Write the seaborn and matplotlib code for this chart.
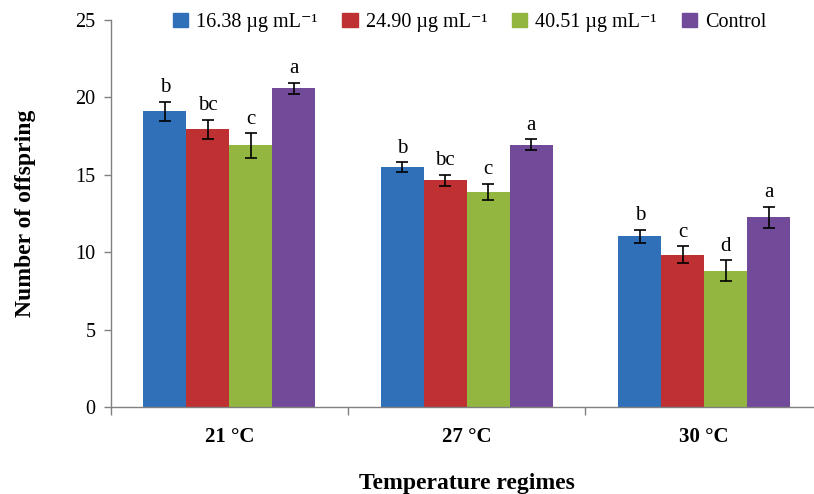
import matplotlib
matplotlib.use("Agg")
import matplotlib.pyplot as plt
import matplotlib.patches as mpatches
import seaborn as sns
import pandas as pd

# values
temps = ["21 °C", "27 °C", "30 °C"]
doses = ["16.38 µg mL⁻¹", "24.90 µg mL⁻¹", "40.51 µg mL⁻¹", "Control"]
means_1638 = [19.1, 15.5, 11.05]
means_2490 = [17.95, 14.65, 9.85]
means_4051 = [16.9, 13.9, 8.8]
means_ctrl = [20.6, 16.95, 12.25]
err_1638 = [0.62, 0.32, 0.42]
err_2490 = [0.62, 0.36, 0.53]
err_4051 = [0.78, 0.52, 0.68]
err_ctrl = [0.35, 0.35, 0.68]
letters_1638 = ["b", "b", "b"]
letters_2490 = ["bc", "bc", "c"]
letters_4051 = ["c", "c", "d"]
letters_ctrl = ["a", "a", "a"]
colors = ["#2F70B8", "#BE3032", "#92B63F", "#714B9A"]

means = [means_1638, means_2490, means_4051, means_ctrl]
errs = [err_1638, err_2490, err_4051, err_ctrl]
letters = [letters_1638, letters_2490, letters_4051, letters_ctrl]

rows = []
for d, dose in enumerate(doses):
    for t, temp in enumerate(temps):
        rows.append({"temp": temp, "dose": dose, "n": means[d][t],
                     "err": errs[d][t], "letter": letters[d][t]})
df = pd.DataFrame(rows)

sns.set_style("white")
plt.rcParams["font.family"] = ["Liberation Serif", "DejaVu Serif"]
plt.rcParams["text.color"] = "black"
plt.rcParams["axes.labelcolor"] = "black"
plt.rcParams["xtick.color"] = "#808080"
plt.rcParams["ytick.color"] = "#808080"
plt.rcParams["xtick.labelcolor"] = "black"
plt.rcParams["ytick.labelcolor"] = "black"

fig = plt.figure(figsize=(8.14, 4.94), dpi=100)
ax = fig.add_axes([0.1359, 0.176, 0.875, 0.7834])

sns.barplot(data=df, x="temp", y="n", hue="dose", order=temps, hue_order=doses,
            palette=colors, width=0.724, errorbar=None, saturation=1,
            edgecolor="none", ax=ax)

# error bars and letters on top of each bar
bars = sorted([p for p in ax.patches if p.get_height() > 0], key=lambda p: p.get_x())
df_sorted = df.assign(ti=df["temp"].map(temps.index), di=df["dose"].map(doses.index))
df_sorted = df_sorted.sort_values(["ti", "di"]).reset_index(drop=True)
for bar, (_, r) in zip(bars, df_sorted.iterrows()):
    xc = bar.get_x() + bar.get_width() / 2
    ax.errorbar(xc, r["n"], yerr=r["err"], fmt="none", ecolor="black",
                elinewidth=1.2, capsize=4, capthick=1.2)
    ax.text(xc, r["n"] + r["err"] + 0.3, r["letter"], ha="center", va="bottom",
            fontsize=15)

ax.set_ylim(0, 25)
ax.set_xlim(-0.5, 2.5)
ax.set_yticks([0, 5, 10, 15, 20, 25])
ax.set_xticks([-0.5, 0.5, 1.5, 2.5], minor=False)
ax.set_xticklabels([])
ax.set_xticks([0, 1, 2], minor=True)
ax.set_xticklabels(temps, minor=True, fontweight="bold", fontsize=15)
ax.tick_params(axis="x", which="minor", bottom=False, length=0, pad=14)
ax.tick_params(axis="x", which="major", bottom=True, length=6, width=1)
ax.tick_params(axis="y", left=True, length=5, width=1, labelsize=14.5, pad=6)

for s in ["top", "right"]:
    ax.spines[s].set_visible(False)
for s in ["left", "bottom"]:
    ax.spines[s].set_color("#808080")
    ax.spines[s].set_linewidth(1)

ax.set_xlabel("Temperature regimes", fontsize=17, fontweight="bold", labelpad=19)
ax.set_ylabel("Number of offspring", fontsize=17, fontweight="bold", labelpad=28)

if ax.get_legend() is not None:
    ax.get_legend().remove()
handles = [mpatches.Patch(color=c) for c in colors]
fig.legend(handles, doses, loc="center", bbox_to_anchor=(0.577, 0.955), ncol=4,
           frameon=False, fontsize=14.5, handlelength=0.75, handleheight=0.75,
           handletextpad=0.4, columnspacing=1.25)

fig.savefig("out.png", dpi=100)
